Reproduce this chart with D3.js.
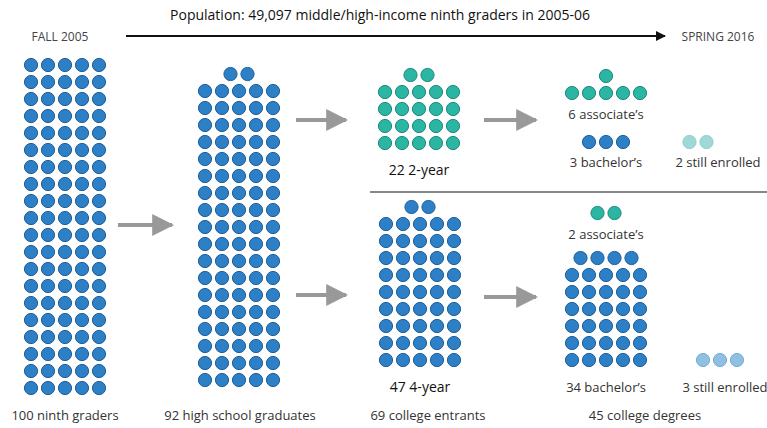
<!DOCTYPE html>
<html>
<head>
<meta charset="utf-8">
<script src="https://cdn.jsdelivr.net/npm/d3@7"></script>
<style>
  body { margin: 0; background: #fff; }
  text { font-family: "Open Sans", "Noto Sans", sans-serif; font-size: 13px; fill: #333; }
</style>
</head>
<body>
<svg class="chart" width="767" height="428"></svg>
<script>
// Groups of dots: count, colour key, label
const groupNames = ['ninth', 'hs', 'twoYear', 'fourYear', 'assoc2', 'bach2', 'enr2', 'assoc4', 'bach4', 'enr4'];
const groupCounts = [100, 92, 22, 47, 6, 3, 2, 2, 34, 3];
const groupColors = ['blue', 'blue', 'teal', 'blue', 'teal', 'blue', 'lteal', 'teal', 'blue', 'lblue'];
const groupLabels = ['', '', '22 2-year', '47 4-year', '6 associate\u2019s', '3 bachelor\u2019s', '2 still enrolled', '2 associate\u2019s', '34 bachelor\u2019s', '3 still enrolled'];
const bottomLabels = ['100 ninth graders', '92 high school graduates', '69 college entrants', '45 college degrees'];

var colors = { blue: '#2d7fc6', teal: '#2bb5a3', lteal: '#9fd8d6', lblue: '#8fbfe3' };
var strokes = { blue: '#1f5f99', teal: '#1f8a7c', lteal: '#8fcfcc', lblue: '#7aaed6' };

// layout per group: centre x, y of last row
var layout = {
  ninth:    [65, 388],
  hs:       [239, 380],
  twoYear:  [419, 143],
  fourYear: [420, 360],
  assoc2:   [606, 93],
  bach2:    [606, 142],
  enr2:     [698, 142],
  assoc4:   [606, 213],
  bach4:    [606, 360],
  enr4:     [720, 360]
};
var labelY = { twoYear: 175, fourYear: 392, assoc2: 119, bach2: 167, enr2: 167, assoc4: 239, bach4: 392, enr4: 392 };
var labelX = { enr2: 718, enr4: 725 };

var pitch = 17, r = 6.6;
var svg = d3.select('.chart');

// build dot positions: full rows of 5 at bottom, remainder centred on top
var dots = [];
groupNames.forEach(function (g, gi) {
  var n = groupCounts[gi], cx = layout[g][0], by = layout[g][1];
  var rows = Math.ceil(n / 5), rem = n % 5;
  var x = d3.scaleLinear().domain([-2, 2]).range([cx - 2 * pitch, cx + 2 * pitch]);
  var y = d3.scaleLinear().domain([0, rows - 1]).range([by - (rows - 1) * pitch, by]);
  for (var i = 0; i < n; i++) {
    var row, k, inRow;
    if (rem && i < rem) { row = 0; k = i; inRow = rem; }
    else { var j = i - rem; row = (rem ? 1 : 0) + Math.floor(j / 5); k = j % 5; inRow = Math.min(5, n); }
    dots.push({ x: x(k - (inRow - 1) / 2), y: y(row), c: groupColors[gi] });
  }
  if (groupLabels[gi]) {
    svg.append('text').attr('x', labelX[g] || cx).attr('y', labelY[g])
      .attr('text-anchor', 'middle')
      .style('fill', (g === 'twoYear' || g === 'fourYear') ? '#111' : '#333')
      .style('font-size', (g === 'twoYear' || g === 'fourYear') ? '14px' : '13px')
      .text(groupLabels[gi]);
  }
});

svg.selectAll('.dot').data(dots).enter().append('circle')
  .attr('class', 'dot')
  .attr('cx', d => d.x).attr('cy', d => d.y).attr('r', r)
  .attr('fill', d => colors[d.c]).attr('stroke', d => strokes[d.c]).attr('stroke-width', 1);

// bottom labels
var bx = [65, 240, 428, 645];
svg.selectAll('.blabel').data(bottomLabels).enter().append('text')
  .attr('x', (d, i) => bx[i]).attr('y', 420).attr('text-anchor', 'middle').text(d => d);

// header
svg.append('text').attr('x', 380).attr('y', 20).attr('text-anchor', 'middle').style('font-size', '14px').style('fill', '#111')
  .text('Population: 49,097 middle/high-income ninth graders in 2005-06');
svg.append('text').attr('x', 60).attr('y', 41).attr('text-anchor', 'middle').style('font-size', '12px').style('fill', '#444').text('FALL 2005');
svg.append('text').attr('x', 718).attr('y', 41).attr('text-anchor', 'middle').style('font-size', '12px').style('fill', '#444').text('SPRING 2016');

var defs = svg.append('defs');
defs.append('marker').attr('id', 'blk').attr('viewBox', '0 0 10 10').attr('refX', 9).attr('refY', 5)
  .attr('markerWidth', 8).attr('markerHeight', 5).attr('orient', 'auto')
  .append('path').attr('d', 'M0,0L10,5L0,10z').attr('fill', '#111');
defs.append('marker').attr('id', 'gry').attr('viewBox', '0 0 10 10').attr('refX', 9).attr('refY', 5)
  .attr('markerWidth', 5.5).attr('markerHeight', 5.5).attr('orient', 'auto')
  .append('path').attr('d', 'M0,0L10,5L0,10z').attr('fill', '#999');

svg.append('line').attr('x1', 126).attr('x2', 665).attr('y1', 36).attr('y2', 36)
  .attr('stroke', '#111').attr('stroke-width', 2).attr('marker-end', 'url(#blk)');

// grey flow arrows
var arrows = [[118, 186, 225], [296, 360, 120], [296, 360, 295], [484, 550, 120], [484, 550, 297]];
svg.selectAll('.arr').data(arrows).enter().append('line')
  .attr('x1', d => d[0]).attr('x2', d => d[1] - 14).attr('y1', d => d[2]).attr('y2', d => d[2])
  .attr('stroke', '#999').attr('stroke-width', 4).attr('marker-end', 'url(#gry)');

svg.append('line').attr('x1', 370).attr('x2', 767).attr('y1', 192).attr('y2', 192)
  .attr('stroke', '#888').attr('stroke-width', 2);
</script>
</body>
</html>
